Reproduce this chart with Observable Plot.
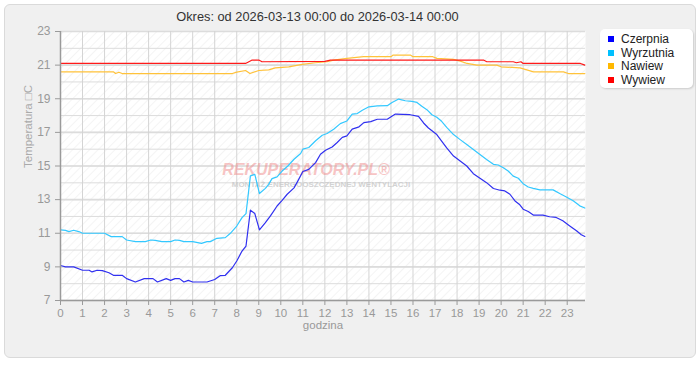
<!DOCTYPE html>
<html>
<head>
<meta charset="utf-8">
<script src="https://cdn.jsdelivr.net/npm/d3@7"></script>
<script src="https://cdn.jsdelivr.net/npm/@observablehq/plot@0.6"></script>
<style>
  html, body { margin: 0; padding: 0; background: #fff; }
  body { width: 700px; height: 380px; position: relative; overflow: hidden; font-family: Tahoma, "Liberation Sans", Arial, sans-serif; }
  #panel { position: absolute; left: 4px; top: 4px; width: 690px; height: 352px; background: #f0f0f0; border: 1px solid #dadada; border-radius: 6px; }
  #title { position: absolute; left: 0; top: 9px; width: 635px; text-align: center; font-size: 12.8px; color: #333; }
  #chart { position: absolute; left: 0; top: 0; }
  #legend { position: absolute; left: 600px; top: 29px; width: 93px; height: 59px; background: #fff; border-radius: 5px; box-shadow: 1px 1px 2px rgba(0,0,0,0.15); }
  .item { position: absolute; left: 8px; font-size: 12px; color: #222; line-height: 13px; }
  .sw { display: inline-block; width: 6px; height: 6px; margin-right: 7px; vertical-align: 1px; }
</style>
</head>
<body>
<div id="panel"></div>
<div id="title">Okres: od 2026-03-13 00:00 do 2026-03-14 00:00</div>
<div id="chart"></div>
<div id="legend"></div>
<script>
const seriesNames = ["Czerpnia", "Wyrzutnia", "Nawiew", "Wywiew"];
const lineColors = ["#3030f0", "#33c8ff", "#ffc23a", "#ff1a1a"];
const legendColors = ["#0000ff", "#00c0ff", "#ffb800", "#ff0000"];

const czerpniaH = [0,0.23,0.6,1.0,1.3,1.43,1.66,1.9,2.2,2.4,2.8,3.0,3.4,3.8,4.2,4.4,4.8,5.0,5.2,5.4,5.6,5.8,6.0,6.65,7.0,7.26,7.48,7.8,8.0,8.24,8.42,8.62,8.82,9.03,9.3,9.53,9.83,10.06,10.29,10.6,10.77,11.0,11.27,11.58,11.8,12.03,12.33,12.56,12.79,13.0,13.24,13.55,13.77,14.08,14.38,14.83,15.06,15.2,15.87,16.25,16.48,16.7,17.08,17.3,17.53,17.84,18.14,18.44,18.74,19.04,19.34,19.65,19.95,20.17,20.4,20.63,20.85,21.0,21.23,21.46,21.9,22.2,22.5,22.8,23.1,23.42,23.64,23.8];
const czerpniaT = [9.08,9.0,9.0,8.8,8.8,8.7,8.8,8.78,8.65,8.5,8.5,8.3,8.1,8.3,8.3,8.1,8.3,8.2,8.3,8.3,8.1,8.2,8.1,8.1,8.25,8.48,8.5,8.95,9.35,9.94,10.24,12.37,12.17,11.2,11.63,12.03,12.62,12.96,13.32,13.7,14.1,14.67,14.8,15.2,15.7,15.94,16.13,16.4,16.7,16.79,17.19,17.33,17.58,17.64,17.78,17.78,17.98,18.09,18.05,17.95,17.56,17.26,16.87,16.48,16.08,15.59,15.3,15.0,14.54,14.27,14.01,13.66,13.56,13.52,13.32,12.92,12.69,12.43,12.29,12.08,12.08,11.98,11.94,11.74,11.45,11.15,10.91,10.81];

const wyrzutniaH = [0,0.23,0.38,0.6,0.83,1.0,2.0,2.3,2.8,3.0,3.4,3.85,4.1,4.3,4.6,5.0,5.2,5.4,5.6,6.0,6.4,6.65,6.8,7.1,7.48,7.7,8.0,8.24,8.42,8.62,8.82,9.03,9.3,9.45,9.6,9.83,10.06,10.32,10.6,10.9,11.0,11.27,11.58,11.88,12.1,12.4,12.7,13.0,13.24,13.47,13.7,14.0,14.38,14.83,15.05,15.35,15.65,15.95,16.18,16.4,16.63,16.86,17.08,17.3,17.53,17.84,18.14,18.44,18.74,19.04,19.34,19.65,19.87,20.1,20.32,20.55,20.78,21.0,21.23,21.46,21.76,22.36,22.66,22.96,23.27,23.57,23.8];
const wyrzutniaT = [11.2,11.17,11.1,11.18,11.1,11.0,11.0,10.8,10.8,10.6,10.5,10.5,10.6,10.58,10.5,10.5,10.6,10.58,10.5,10.5,10.4,10.5,10.5,10.7,10.74,10.98,11.43,11.93,12.17,14.41,14.5,13.36,13.67,13.91,14.25,14.35,14.7,15.0,15.4,15.74,16.0,16.1,16.5,16.83,16.93,17.19,17.52,17.68,18.08,18.12,18.32,18.52,18.58,18.59,18.78,18.98,18.88,18.84,18.78,18.55,18.35,18.05,17.9,17.66,17.3,16.87,16.57,16.28,15.98,15.69,15.39,15.1,15.06,14.9,14.7,14.4,14.27,13.95,13.75,13.67,13.58,13.58,13.36,13.16,12.93,12.63,12.5];

const nawiewH = [0,2.4,2.5,2.65,2.8,7.8,8.0,8.4,8.6,9.0,9.45,9.75,10.36,10.97,11.57,12.1,12.4,13.0,13.76,15.0,15.1,15.88,16.0,16.9,17.08,17.84,18.15,18.45,18.9,19.8,20.0,20.86,21.47,22.83,23.05,23.8];
const nawiewT = [20.6,20.6,20.5,20.58,20.5,20.5,20.58,20.68,20.5,20.68,20.72,20.84,20.9,21.04,21.14,21.2,21.3,21.4,21.5,21.5,21.6,21.6,21.5,21.5,21.4,21.34,21.24,21.1,21.0,21.0,20.9,20.84,20.6,20.6,20.5,20.5];

const wywiewH = [0,8.4,8.7,9.0,9.15,12.0,12.25,19.2,19.35,20.55,20.7,20.9,21.0,23.6,23.8];
const wywiewT = [21.1,21.1,21.3,21.3,21.2,21.22,21.3,21.3,21.2,21.2,21.14,21.2,21.1,21.1,21.0];

const hourTicks = d3.range(0, 24);
const tempTicks = [7, 9, 11, 13, 15, 17, 19, 21, 23];
const tempGrid = d3.range(7, 24);
const xLabel = "godzina";
const yLabel = "Temperatura \u25A1C";
const watermark = "REKUPERATORY.PL\u00AE";
const watermarkSub = "MONTAŻ ENERGOOSZCZĘDNEJ WENTYLACJI";

const allH = [czerpniaH, wyrzutniaH, nawiewH, wywiewH];
const allT = [czerpniaT, wyrzutniaT, nawiewT, wywiewT];
const data = [];
seriesNames.forEach((name, i) => {
  allH[i].forEach((h, j) => data.push({series: name, hour: h, temp: allT[i][j]}));
});

const font = 'Tahoma, "Liberation Sans", Arial, sans-serif';

const chart = Plot.plot({
  width: 700,
  height: 360,
  marginLeft: 60,
  marginRight: 115,
  marginTop: 31,
  marginBottom: 60,
  x: {domain: [0, 23.83]},
  y: {domain: [7, 23]},
  color: {domain: seriesNames, range: lineColors},
  style: {background: "transparent", fontFamily: font, fontSize: "11px", color: "#999", overflow: "visible"},
  marks: [
    Plot.frame({fill: "#fff", stroke: "none"}),
    Plot.frame({fill: "url(#hatchPattern)", stroke: "none"}),
    Plot.gridY(tempGrid, {stroke: "#dcdcdc", strokeOpacity: 1, strokeWidth: 1}),
    Plot.gridY(tempTicks, {stroke: "#dcdcdc", strokeOpacity: 1, strokeWidth: 1.6}),
    Plot.gridX(hourTicks, {stroke: "#d4d4d4", strokeOpacity: 1, strokeWidth: 1}),
    Plot.text([watermark], {frameAnchor: "middle", dx: -17, dy: 4, text: d => d, fill: "#f08a8a", fillOpacity: 0.5, fontSize: 16, fontWeight: "bold", fontStyle: "italic", fontFamily: "Liberation Sans, Arial, sans-serif"}),
    Plot.text([watermarkSub], {frameAnchor: "middle", dx: -2, dy: 18, text: d => d, fill: "#c8c8c8", fillOpacity: 0.8, fontSize: 8, fontWeight: "bold", fontFamily: "Liberation Sans, Arial, sans-serif"}),
    Plot.line(data, {x: "hour", y: "temp", z: "series", stroke: "series", strokeWidth: 1.2}),
    Plot.ruleY([7], {stroke: "#9a9a9a", strokeWidth: 1.5}),
    Plot.ruleX([0], {stroke: "#9a9a9a", strokeWidth: 1.5}),
    Plot.axisY(tempTicks, {tickSize: 5, tickPadding: 5, label: null, fontSize: 12, stroke: "#9a9a9a", fill: "#999"}),
    Plot.axisX(hourTicks, {tickSize: 5, tickPadding: 3, label: null, fontSize: 11.5, stroke: "#9a9a9a", fill: "#999"}),
    Plot.text([xLabel], {frameAnchor: "bottom", dy: 28, text: d => d, fill: "#999", fontSize: 11.5}),
    Plot.text([yLabel], {frameAnchor: "left", dx: -32, dy: 2, rotate: -90, text: d => d, fill: "#aaa", fontSize: 11.5})
  ]
});

const ns = "http://www.w3.org/2000/svg";
const defs = document.createElementNS(ns, "defs");
const pat = document.createElementNS(ns, "pattern");
pat.setAttribute("id", "hatchPattern");
pat.setAttribute("width", "6");
pat.setAttribute("height", "6");
pat.setAttribute("patternUnits", "userSpaceOnUse");
pat.setAttribute("patternTransform", "rotate(45)");
const ln = document.createElementNS(ns, "line");
ln.setAttribute("x1", "0"); ln.setAttribute("y1", "0");
ln.setAttribute("x2", "0"); ln.setAttribute("y2", "6");
ln.setAttribute("stroke", "#ececec");
ln.setAttribute("stroke-width", "1.2");
pat.appendChild(ln);
defs.appendChild(pat);
chart.insertBefore(defs, chart.firstChild);

document.getElementById("chart").appendChild(chart);

const legend = document.getElementById("legend");
seriesNames.forEach((name, i) => {
  const div = document.createElement("div");
  div.className = "item";
  div.style.top = (4 + i * 13.5) + "px";
  const sw = document.createElement("span");
  sw.className = "sw";
  sw.style.background = legendColors[i];
  div.appendChild(sw);
  div.appendChild(document.createTextNode(name));
  legend.appendChild(div);
});
</script>
</body>
</html>
